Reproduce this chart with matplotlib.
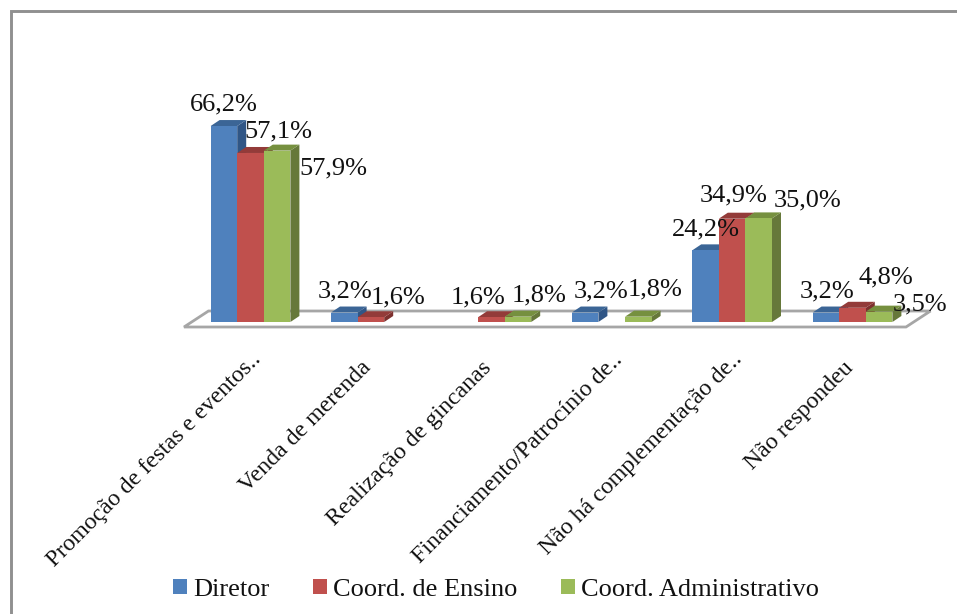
import matplotlib
matplotlib.use("Agg")
import matplotlib.pyplot as plt
from matplotlib.patches import Polygon, Rectangle
from matplotlib.lines import Line2D
from matplotlib.transforms import ScaledTranslation

categories = ["Promoção de festas e eventos..", "Venda de merenda", "Realização de gincanas",
              "Financiamento/Patrocínio de..", "Não há complementação de..", "Não respondeu"]
series_names = ["Diretor", "Coord. de Ensino", "Coord. Administrativo"]
diretor = [66.2, 3.2, None, 3.2, 24.2, 3.2]
coord_ensino = [57.1, 1.6, 1.6, None, 34.9, 4.8]
coord_admin = [57.9, None, 1.8, 1.8, 35.0, 3.5]
front_colors = ["#4F81BD", "#C0504D", "#9BBB59"]
top_colors = ["#3B6596", "#933B39", "#76903F"]
side_colors = ["#305686", "#7D302E", "#66783A"]

# Hand-placed label offsets (pixels) from each bar's upper-left front corner
label_offsets = [
    [(-21, 22), (7, 22), (36, -18)],
    [(-13, 21), (13, 20), (0, 0)],
    [(0, 0), (-27, 20), (7, 21)],
    [(2, 21), (0, 0), (3, 27)],
    [(-20, 21), (-19, 23), (28, 18)],
    [(-13, 21), (19, 30), (27, 7)],
]

W, H = 957, 614
DPI = 100
PX_PER_GROUP = 120.4
PX_PER_PCT = 2.96
BASE_PX = 322      # baseline, pixels from the top
LEFT_PX, RIGHT_PX, TOP_PX = 150, 950, 12
CENTER0_PX = 250.5

plt.rcParams["font.family"] = ["Liberation Serif", "DejaVu Serif"]
fig = plt.figure(figsize=(W / DPI, H / DPI), dpi=DPI, facecolor="white")
ax = fig.add_axes([LEFT_PX / W, 1 - BASE_PX / H, (RIGHT_PX - LEFT_PX) / W, (BASE_PX - TOP_PX) / H])
ax.set_xlim((LEFT_PX - CENTER0_PX) / PX_PER_GROUP, (RIGHT_PX - CENTER0_PX) / PX_PER_GROUP)
ax.set_ylim(0, (BASE_PX - TOP_PX) / PX_PER_PCT)
ax.patch.set_visible(False)
for s in ax.spines.values():
    s.set_visible(False)
ax.set_yticks([])

bar_w = 26.6 / PX_PER_GROUP
dx = 9 / PX_PER_GROUP
dy = 6 / PX_PER_PCT

# Floor of the 3-D plot
fx0, fx1 = (184 - CENTER0_PX) / PX_PER_GROUP, (906 - CENTER0_PX) / PX_PER_GROUP
fy = -5 / PX_PER_PCT
bdx = 24.5 / PX_PER_GROUP
bdy = 16 / PX_PER_PCT
ax.add_patch(Polygon([(fx0, fy), (fx1, fy), (fx1 + bdx, fy + bdy), (fx0 + bdx, fy + bdy)],
                     closed=True, facecolor="white", edgecolor="#A6A6A6", lw=2.0,
                     clip_on=False, zorder=1))

all_series = [diretor, coord_ensino, coord_admin]
for g in range(len(categories)):
    for k in [2, 1, 0]:
        v = all_series[k][g]
        if v is None:
            continue
        x0 = g + (k - 1.5) * bar_w
        x1 = x0 + bar_w
        z = 3 + k * 0.1
        ax.add_patch(Polygon([(x1, 0), (x1 + dx, dy), (x1 + dx, v + dy), (x1, v)],
                             closed=True, facecolor=side_colors[k], edgecolor="none", zorder=z))
        ax.add_patch(Polygon([(x0, v), (x1, v), (x1 + dx, v + dy), (x0 + dx, v + dy)],
                             closed=True, facecolor=top_colors[k], edgecolor="none", zorder=z))
        ax.add_patch(Rectangle((x0, 0), bar_w, v, facecolor=front_colors[k], edgecolor="none", zorder=z + 0.01))

for g in range(len(categories)):
    for k in range(3):
        v = all_series[k][g]
        if v is None:
            continue
        x0 = g + (k - 1.5) * bar_w
        ax.annotate(f"{v:.1f}%".replace(".", ","), (x0, v), xytext=label_offsets[g][k],
                    textcoords="offset pixels", fontsize=19, color="#111111", ha="left", va="center",
                    zorder=10, annotation_clip=False)

ax.set_xticks(range(len(categories)))
ax.set_xticklabels(categories, rotation=45, ha="right", rotation_mode="anchor", fontsize=17.2, color="#111111")
ax.tick_params(axis="x", length=0, pad=19.5)

# Labels without trailing dots end a little further down and to the left
for label, cat in zip(ax.get_xticklabels(), categories):
    if not cat.endswith(".."):
        label.set_transform(label.get_transform() + ScaledTranslation(-10 / DPI, -8 / DPI, fig.dpi_scale_trans))

# Outer chart frame: left and top edges, running off the canvas
fig.add_artist(Line2D([10.5 / W, 10.5 / W, 1], [0, 1 - 10.5 / H, 1 - 10.5 / H],
                      color="#909090", lw=2.1, solid_joinstyle="miter"))

handles = [Rectangle((0, 0), 1, 1, facecolor=c, edgecolor="none") for c in front_colors]
fig.legend(handles, series_names, loc="center", bbox_to_anchor=(496 / W, 1 - 590 / H), ncol=3,
           frameon=False, fontsize=19, handlelength=0.53, handleheight=0.53, handletextpad=0.25,
           columnspacing=1.63, borderpad=0, labelcolor="#111111")

fig.savefig("out.png", dpi=DPI)
